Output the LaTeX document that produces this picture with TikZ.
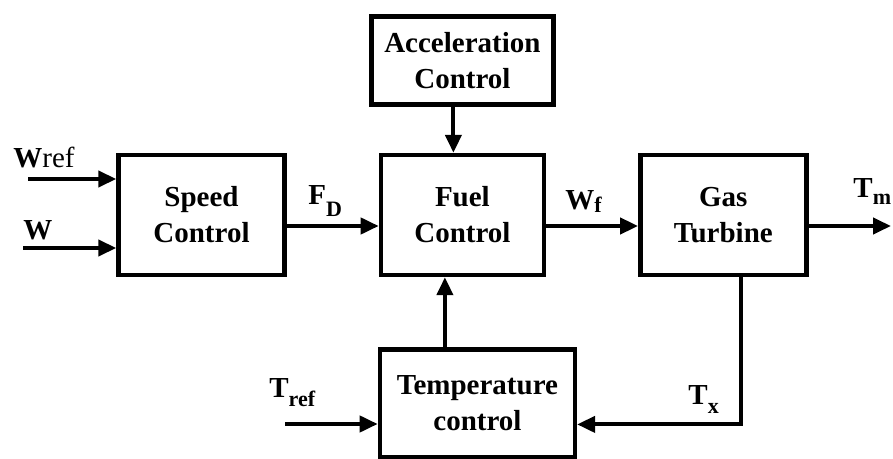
\documentclass[tikz,border=0pt]{standalone}
\usepackage{fontspec}
\setmainfont{Liberation Serif}
\usepackage{tikz}
\usetikzlibrary{arrows.meta,positioning}
\newcommand{\lowsub}[2]{\raisebox{-#1}{\fontsize{11}{11}\selectfont #2}}

\begin{document}
\begin{tikzpicture}[x=0.5pt,y=-0.5pt,
    font=\fontsize{14.5}{18}\selectfont\bfseries,
    blk/.style={draw=black,fill=white,minimum height=60pt,minimum width=83pt,
      align=center,inner sep=0pt,line width=2.2pt},
    sig/.style={anchor=base west,inner sep=0pt},
    arr/.style={->,line width=2pt},
    >={Triangle[length=9pt,width=8pt]}]
  \useasboundingbox (0,0) rectangle (893,459);
  \node[blk] (SC) at (201.5,215) {Speed\\Control};
  \node[blk, minimum width=81.5pt, right=46pt of SC] (FC) {Fuel\\Control};
  \node[blk, right=46pt of FC] (GT) {Gas\\Turbine};
  \node[blk, minimum width=91pt, minimum height=44pt, above=23pt of FC] (AC)
       {Acceleration\\Control};
  \node[blk, minimum width=97.5pt, minimum height=54pt, below=35pt of FC,
       xshift=7.5pt] (TC) {Temperature\\control};
  % free ends
  \coordinate (wref) at (28,179);
  \coordinate (w) at (23,248);
  \coordinate (tref) at (285,424);
  \coordinate (tm) at (891,226);
  \draw[arr] (wref) -- (wref -| SC.west);
  \draw[arr] (w) -- (w -| SC.west);
  \draw[arr] ([yshift=-5.5pt]SC.east) -- ([yshift=-5.5pt]FC.west);
  \draw[arr] ([yshift=-5.5pt]FC.east) -- ([yshift=-5.5pt]GT.west);
  \draw[arr] ([yshift=-5.5pt]GT.east) -- (tm);
  \draw[arr] ([xshift=-4.5pt]AC.south) -- ([xshift=-4.5pt]AC.south |- FC.north);
  \draw[arr] ([xshift=-16.25pt]TC.north) -- ([xshift=-16.25pt]TC.north |- FC.south);
  \draw[arr] ([xshift=9pt]GT.south) |- ([yshift=-10.5pt]TC.east);
  \draw[arr] (tref) -- (tref -| TC.west);
  % signal labels
  \node[sig] (lwref) at (13,168) {W\mdseries ref};
  \node[sig] (lw) at (23,240) {W};
  \node[sig] (lfd) at (308,205) {F\lowsub{6pt}{D}};
  \node[sig] (lwf) at (565,210) {W\lowsub{1.5pt}{f}};
  \node[sig] (ltm) at (853,198) {T\lowsub{3.5pt}{m}};
  \node[sig] (ltref) at (269,397) {T\lowsub{4.5pt}{ref}};
  \node[sig] (ltx) at (688,404) {T\lowsub{4.5pt}{x}};
\end{tikzpicture}
\end{document}
